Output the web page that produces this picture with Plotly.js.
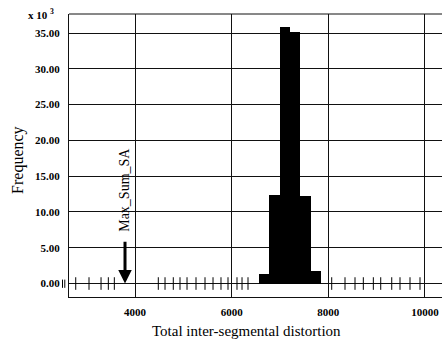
<!DOCTYPE html>
<html>
<head>
<meta charset="utf-8">
<script src="https://cdn.plot.ly/plotly-3.0.1.min.js"></script>
<style>html,body{margin:0;padding:0;background:#fff;}#chart{width:442px;height:340px;}</style>
</head>
<body>
<div id="chart"></div>
<script>
// Histogram bins (centers) and frequencies (x 10^3)
var binCenters = [6673, 6886, 7099, 7312, 7525, 7738];
var frequencies = [1.3, 12.4, 35.9, 35.2, 12.3, 1.7];
var binWidth = 213;
// Individual low-frequency values shown as rug marks on the zero line
var rugValues = [2773, 3048, 3297, 3448, 3572, 4482, 4621, 4792, 4931, 5076, 5262, 5448, 5614, 5779, 5924, 6110, 6214, 6338,
                 8070, 8345, 8552, 8724, 8931, 9084, 9312, 9483, 9690, 9897];
var rugZero = rugValues.map(function(){return 0;});
// Marked value
var markerLabel = 'Max_Sum_SA';
var markerValue = 3793;
var xTicks = [4000, 6000, 8000, 10000];
var yTicks = [0, 5, 10, 15, 20, 25, 30, 35];

var serif = 'Liberation Serif, Times New Roman, serif';

var traces = [
  {type: 'bar', x: binCenters, y: frequencies, width: binWidth,
   marker: {color: '#000', line: {width: 0}}, hoverinfo: 'skip'},
  {type: 'scatter', mode: 'markers', x: rugValues, y: rugZero,
   marker: {symbol: 'line-ns-open', size: 9, color: '#000', line: {width: 1, color: '#000'}},
   cliponaxis: false, hoverinfo: 'skip'}
];

var layout = {
  width: 442, height: 340,
  margin: {l: 69, r: 0, t: 14, b: 43, pad: 0},
  paper_bgcolor: '#fff', plot_bgcolor: '#fff',
  showlegend: false,
  bargap: 0,
  font: {family: serif, color: '#000'},
  xaxis: {
    range: [2634, 10352], tickvals: xTicks, ticktext: xTicks.map(String),
    showgrid: true, gridcolor: '#111', gridwidth: 1,
    zeroline: false, showline: true, linecolor: '#111', linewidth: 1, mirror: false,
    ticks: '', ticklabelstandoff: 5,
    tickfont: {family: serif, size: 11, color: '#000', weight: 'bold'}
  },
  yaxis: {
    range: [-1.88, 37.66], tickvals: yTicks, tickformat: '.2f',
    showgrid: true, gridcolor: '#111', gridwidth: 1,
    zeroline: false, showline: true, linecolor: '#111', linewidth: 1,
    ticks: '', ticklabelstandoff: 6,
    tickfont: {family: serif, size: 11, color: '#000', weight: 'bold'}
  },
  shapes: [
    {type: 'line', xref: 'paper', yref: 'paper', x0: 0, x1: 1, y0: 1, y1: 1, line: {color: '#111', width: 1}},
    {type: 'line', xref: 'paper', yref: 'y', x0: -0.0174, x1: -0.0174, y0: -0.6, y1: 0.55, line: {color: '#000', width: 1}},
    {type: 'line', xref: 'paper', yref: 'y', x0: -0.0113, x1: -0.0113, y0: -0.6, y1: 0.55, line: {color: '#000', width: 1}}
  ],
  annotations: [
    {x: markerValue, y: 0, ax: markerValue, ay: 6.06, xref: 'x', yref: 'y', axref: 'x', ayref: 'y',
     text: '', showarrow: true, arrowhead: 2, arrowsize: 0.9, arrowwidth: 3, arrowcolor: '#000'},
    {x: markerValue, y: 13.1, xref: 'x', yref: 'y', text: markerLabel, textangle: -90, showarrow: false,
     font: {family: serif, size: 14, color: '#000'}},
    {x: -0.075, y: 1.0, xref: 'paper', yref: 'paper', xanchor: 'center', yanchor: 'middle',
     text: 'x 10 <sup>3</sup>', showarrow: false, font: {family: serif, size: 11, color: '#000', weight: 'bold'}},
    {x: -0.137, y: 0.484, xref: 'paper', yref: 'paper', xanchor: 'center', yanchor: 'middle', text: 'Frequency', textangle: -90, showarrow: false,
     font: {family: serif, size: 16, color: '#000'}},
    {x: 0.475, y: -0.12, xref: 'paper', yref: 'paper', yanchor: 'middle', text: 'Total inter-segmental distortion',
     showarrow: false, font: {family: serif, size: 15, color: '#000'}}
  ]
};

Plotly.newPlot('chart', traces, layout, {displayModeBar: false, staticPlot: true});
</script>
</body>
</html>
